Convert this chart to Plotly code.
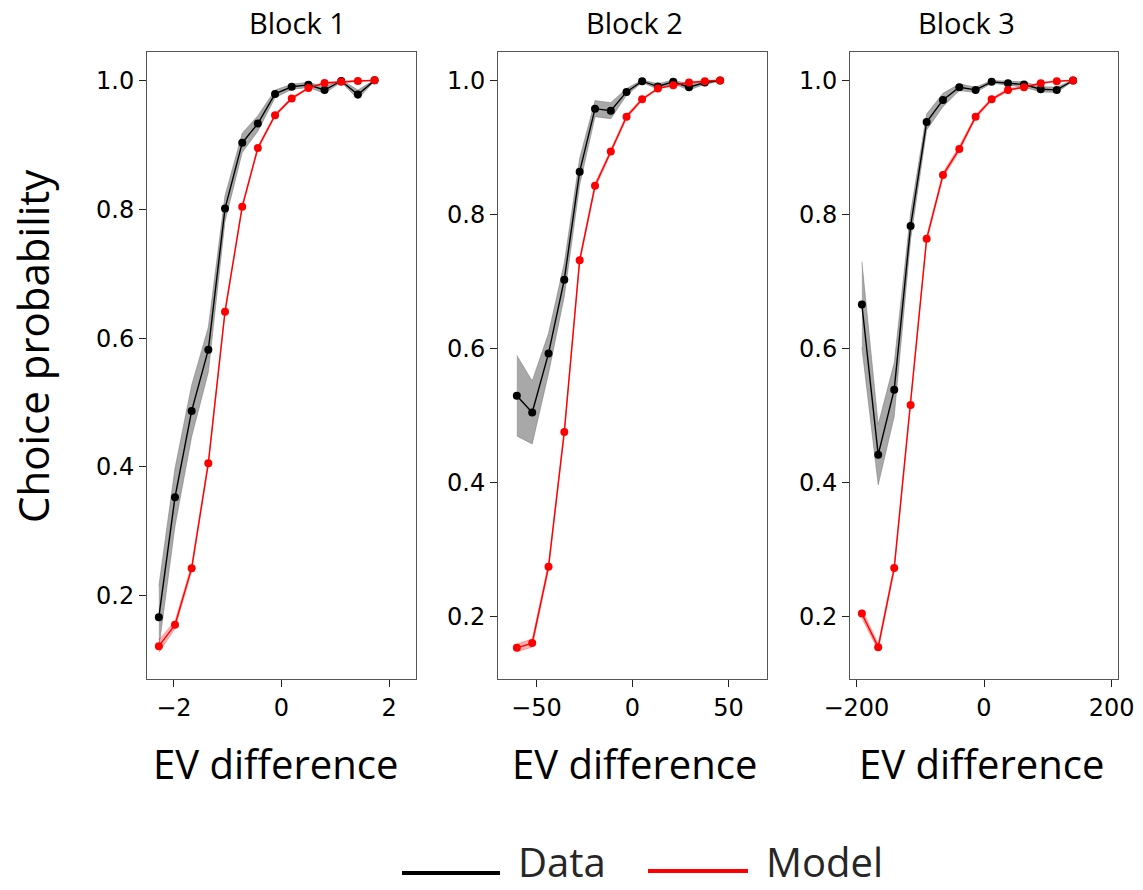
import plotly.graph_objects as go

# ---------------- data ----------------
x_b1 = [-2.28, -1.98, -1.67, -1.36, -1.05, -0.73, -0.44, -0.12, 0.19, 0.50, 0.80, 1.11, 1.42, 1.73]
data_b1 = [0.167, 0.353, 0.487, 0.582, 0.801, 0.903, 0.933, 0.979, 0.990, 0.993, 0.985, 0.999, 0.978, 1.0]
data_b1_se = [0.048, 0.045, 0.040, 0.035, 0.020, 0.015, 0.012, 0.006, 0.004, 0.004, 0.005, 0.002, 0.007, 0.001]
model_b1 = [0.122, 0.155, 0.243, 0.406, 0.641, 0.804, 0.895, 0.946, 0.972, 0.988, 0.996, 0.998, 0.999, 1.0]
model_b1_se = [0.010, 0.006, 0.005, 0.004, 0.003, 0.003, 0.003, 0.002, 0.002, 0.001, 0.001, 0.001, 0.001, 0.0005]

x_b2 = [-60.2, -52.2, -43.7, -35.5, -27.5, -19.5, -11.3, -3.1, 5.0, 13.2, 21.2, 29.4, 37.6, 45.6]
data_b2 = [0.530, 0.505, 0.593, 0.703, 0.864, 0.958, 0.955, 0.983, 0.999, 0.991, 0.998, 0.990, 0.997, 1.0]
data_b2_se = [0.060, 0.047, 0.030, 0.025, 0.020, 0.012, 0.012, 0.005, 0.002, 0.004, 0.003, 0.004, 0.003, 0.001]
model_b2 = [0.154, 0.161, 0.275, 0.476, 0.732, 0.843, 0.894, 0.946, 0.972, 0.988, 0.993, 0.997, 0.999, 1.0]
model_b2_se = [0.006, 0.006, 0.005, 0.004, 0.004, 0.004, 0.003, 0.003, 0.002, 0.001, 0.001, 0.001, 0.001, 0.0005]

x_b3 = [-191.4, -165.8, -140.7, -115.0, -89.9, -64.3, -38.7, -13.1, 12.0, 37.6, 62.7, 88.9, 114.0, 139.6]
data_b3 = [0.666, 0.442, 0.539, 0.783, 0.938, 0.971, 0.990, 0.986, 0.998, 0.996, 0.994, 0.987, 0.986, 1.0]
data_b3_se = [0.064, 0.045, 0.040, 0.020, 0.012, 0.010, 0.005, 0.004, 0.002, 0.003, 0.004, 0.004, 0.004, 0.001]
model_b3 = [0.205, 0.155, 0.273, 0.516, 0.764, 0.859, 0.898, 0.946, 0.972, 0.986, 0.990, 0.996, 0.999, 1.0]
model_b3_se = [0.007, 0.005, 0.005, 0.004, 0.004, 0.004, 0.004, 0.003, 0.002, 0.002, 0.001, 0.001, 0.001, 0.0005]

block_titles = ["Block 1", "Block 2", "Block 3"]
x_tick_vals = [[-2, 0, 2], [-50, 0, 50], [-200, 0, 200]]
y_tick_vals = [0.2, 0.4, 0.6, 0.8, 1.0]
legend_labels = ["Data", "Model"]

blocks = [
    (x_b1, data_b1, data_b1_se, model_b1, model_b1_se),
    (x_b2, data_b2, data_b2_se, model_b2, model_b2_se),
    (x_b3, data_b3, data_b3_se, model_b3, model_b3_se),
]

# ---------------- layout constants ----------------
W, H = 1143, 890
x_domains_px = [(147, 416), (498, 767), (850, 1118)]
y_domain_px = (52, 679)
x_ranges = [[-2.5, 2.5], [-70, 70], [-210, 210]]
y_ranges = [[0.071, 1.044], [0.1075, 1.0425], [0.1075, 1.0425]]
title_cx = [297, 634, 966]
xlabel_cx = [275, 634, 981]

fig = go.Figure()

series_style = [
    ("black", "rgba(110,110,110,0.6)"),
    ("red", "rgba(255,0,0,0.3)"),
]

for i, (xs, d, dse, m, mse) in enumerate(blocks):
    xa = "x" if i == 0 else f"x{i+1}"
    ya = "y" if i == 0 else f"y{i+1}"
    for (vals, se), (col, fillcol) in zip([(d, dse), (m, mse)], series_style):
        lo = [v - s for v, s in zip(vals, se)]
        hi = [v + s for v, s in zip(vals, se)]
        fig.add_trace(go.Scatter(x=xs, y=lo, mode="lines", line=dict(width=0.8, color=fillcol),
                                 xaxis=xa, yaxis=ya, showlegend=False, hoverinfo="skip"))
        fig.add_trace(go.Scatter(x=xs, y=hi, mode="lines", line=dict(width=0.8, color=fillcol),
                                 fill="tonexty", fillcolor=fillcol,
                                 xaxis=xa, yaxis=ya, showlegend=False, hoverinfo="skip"))
    for vals, (col, _), name in zip([d, m], series_style, legend_labels):
        fig.add_trace(go.Scatter(x=xs, y=vals, mode="lines+markers", name=name,
                                 line=dict(color=col, width=1.4),
                                 marker=dict(color=col, size=8),
                                 xaxis=xa, yaxis=ya, showlegend=False))

layout = dict(
    width=W, height=H,
    margin=dict(l=0, r=0, t=0, b=0),
    paper_bgcolor="white", plot_bgcolor="white",
    showlegend=False,
)

axis_common = dict(
    showgrid=False, zeroline=False, showline=True, mirror=True,
    linecolor="#555555", linewidth=1, automargin=False,
    ticks="outside", ticklen=7, tickwidth=1, tickcolor="#222222",
    tickfont=dict(family="DejaVu Sans", size=24, color="black"),
)

for i in range(3):
    sx = "" if i == 0 else str(i + 1)
    x0, x1 = x_domains_px[i]
    layout[f"xaxis{sx}"] = dict(
        axis_common, domain=[x0 / W, x1 / W], range=x_ranges[i],
        tickvals=x_tick_vals[i], anchor=f"y{sx}",
    )
    layout[f"yaxis{sx}"] = dict(
        axis_common, domain=[1 - y_domain_px[1] / H, 1 - y_domain_px[0] / H],
        range=y_ranges[i], tickvals=y_tick_vals, tickformat=".1f", anchor=f"x{sx}",
    )

fig.update_layout(**layout)

ann = []
for i in range(3):
    ann.append(dict(text=block_titles[i], x=title_cx[i] / W, y=1 - 22 / H, xref="paper", yref="paper",
                    xanchor="center", yanchor="middle", showarrow=False,
                    font=dict(family="Open Sans", size=29, color="black")))
    ann.append(dict(text="EV difference", x=xlabel_cx[i] / W, y=1 - 763 / H, xref="paper", yref="paper",
                    xanchor="center", yanchor="middle", showarrow=False,
                    font=dict(family="Open Sans", size=40, color="black")))
ann.append(dict(text="Choice probability", x=32 / W, y=1 - 346 / H, xref="paper", yref="paper",
                xanchor="center", yanchor="middle", showarrow=False, textangle=-90,
                font=dict(family="Open Sans", size=42, color="black")))
# legend entries
legend_items = [(402, 500, 873, 517, "black"), (648, 748, 871, 765, "red")]
shapes = []
for (lx0, lx1, ly, tx, col), lab in zip(legend_items, legend_labels):
    shapes.append(dict(type="line", xref="paper", yref="paper", x0=lx0 / W, x1=lx1 / W,
                       y0=1 - ly / H, y1=1 - ly / H, line=dict(color=col, width=4)))
    ann.append(dict(text=lab, x=tx / W, y=0, xref="paper", yref="paper",
                    xanchor="left", yanchor="bottom", showarrow=False, borderpad=0,
                    font=dict(family="Open Sans", size=40, color="#262626")))

fig.update_layout(annotations=ann, shapes=shapes)
fig.write_html("out.html")
